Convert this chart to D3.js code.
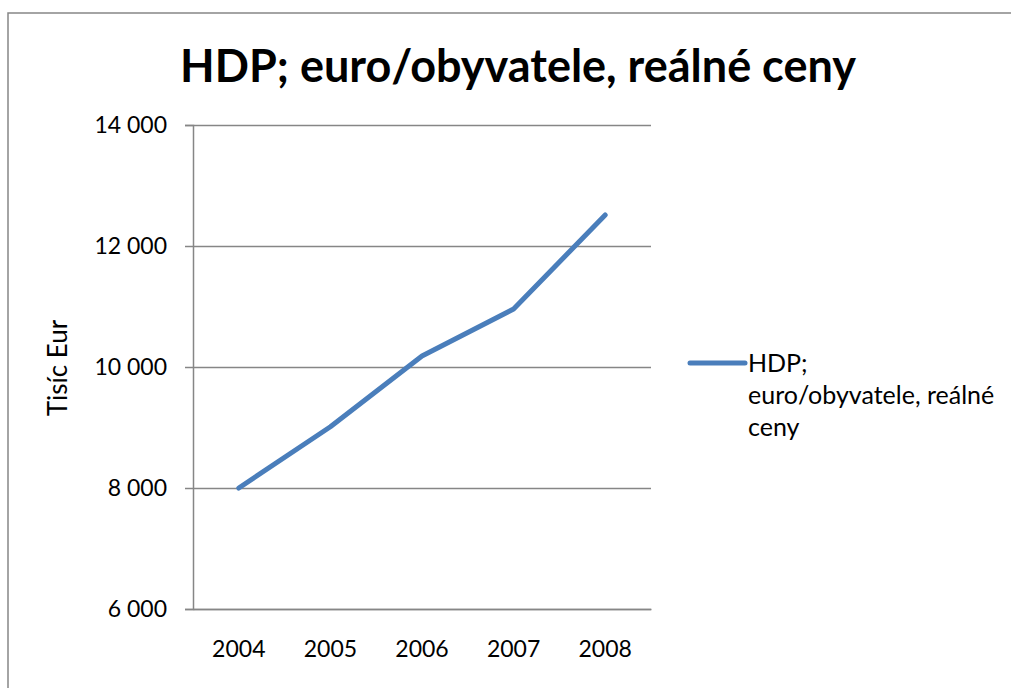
<!DOCTYPE html>
<html>
<head>
<meta charset="utf-8">
<script src="https://cdn.jsdelivr.net/npm/d3@7"></script>
<style>
  html, body { margin: 0; background: #fff; overflow: hidden; }
  svg { display: block; }
  text { font-family: Lato, "Open Sans", sans-serif; fill: #000; }
</style>
</head>
<body>
<div id="chart"></div>
<script>
// Data
var years = ["2004", "2005", "2006", "2007", "2008"];
var gdp = [8000, 9013, 10182, 10959, 12512];
var yTicks = [6000, 8000, 10000, 12000, 14000];
var legendLines = ["HDP;", "euro/obyvatele, reálné", "ceny"];
var titleText = "HDP; euro/obyvatele, reálné ceny";
var yTitle = "Tisíc Eur";

var width = 1011;
var height = 688;
var margin = ({ top: 125, right: 360, bottom: 79, left: 193 });

var data = years.map((y, i) => ({ year: y, value: gdp[i] }));

const svg = d3.select("#chart")
    .append("svg")
    .attr("width", width)
    .attr("height", height);

// Outer chart frame: only the top and left edges are inside the picture
var framePath = d3.path();
framePath.moveTo(8, height + 10);
framePath.lineTo(8, 13);
framePath.lineTo(width + 10, 13);
svg.append("path")
    .attr("d", framePath.toString())
    .attr("fill", "none")
    .attr("stroke", "#868686")
    .attr("stroke-width", 1.5);

var x = d3.scaleBand()
    .domain(years)
    .range([margin.left, width - margin.right]);
var y = d3.scaleLinear()
    .domain([6000, 14000])
    .range([height - margin.bottom, margin.top]);

var fmt = v => d3.format(",")(v).replace(/,/g, " ");

// Grid lines
svg.append("g")
    .attr("transform", `translate(${margin.left},0)`)
    .call(d3.axisRight(y).tickValues(yTicks).tickSize(width - margin.left - margin.right).tickFormat(""))
    .call(g => g.select(".domain").remove())
    .call(g => g.selectAll(".tick line")
        .attr("stroke", "#868686")
        .attr("stroke-width", 1.5));

// Y axis
svg.append("g")
    .attr("transform", `translate(${margin.left},0)`)
    .call(d3.axisLeft(y).tickValues(yTicks).tickSize(8).tickPadding(18).tickFormat(fmt))
    .call(g => g.select(".domain").attr("stroke", "#868686").attr("stroke-width", 1.5))
    .call(g => g.selectAll(".tick line").attr("stroke", "#868686").attr("stroke-width", 1.5))
    .call(g => g.selectAll(".tick text")
        .style("font-family", "Lato, sans-serif")
        .style("font-size", "23px")
        .attr("fill", "#000"));

// X axis
svg.append("g")
    .attr("transform", `translate(0,${height - margin.bottom})`)
    .call(d3.axisBottom(x).tickSize(0).tickPadding(32))
    .call(g => g.select(".domain").attr("stroke", "#868686").attr("stroke-width", 1.5))
    .call(g => g.selectAll(".tick text")
        .style("font-family", "Lato, sans-serif")
        .style("font-size", "23px")
        .attr("fill", "#000"));

// The series line
var line = d3.line()
    .x(d => x(d.year) + x.bandwidth() / 2)
    .y(d => y(d.value));

svg.append("path")
    .datum(data)
    .attr("fill", "none")
    .attr("stroke", "#4a7ebb")
    .attr("stroke-width", 5)
    .attr("stroke-linecap", "round")
    .attr("stroke-linejoin", "round")
    .attr("d", line);

// Title
svg.append("text")
    .attr("x", 518)
    .attr("y", 82)
    .attr("text-anchor", "middle")
    .style("font-size", "45px")
    .style("font-weight", "bold")
    .text(titleText);

// Y axis title
svg.append("text")
    .attr("transform", `translate(67,${(margin.top + height - margin.bottom) / 2 + 1}) rotate(-90)`)
    .attr("text-anchor", "middle")
    .style("font-size", "26px")
    .text(yTitle);

// Legend
var legend = svg.append("g").attr("transform", "translate(690,363)");
legend.append("line")
    .attr("x1", 0)
    .attr("x2", 55)
    .attr("y1", 0)
    .attr("y2", 0)
    .attr("stroke", "#4a7ebb")
    .attr("stroke-width", 5)
    .attr("stroke-linecap", "round");
legend.append("text")
    .attr("x", 58)
    .attr("y", 9)
    .style("font-size", "25px")
    .selectAll("tspan")
    .data(legendLines)
    .join("tspan")
        .attr("x", 58)
        .attr("dy", (d, i) => i === 0 ? 0 : 32)
        .text(d => d);
</script>
</body>
</html>
